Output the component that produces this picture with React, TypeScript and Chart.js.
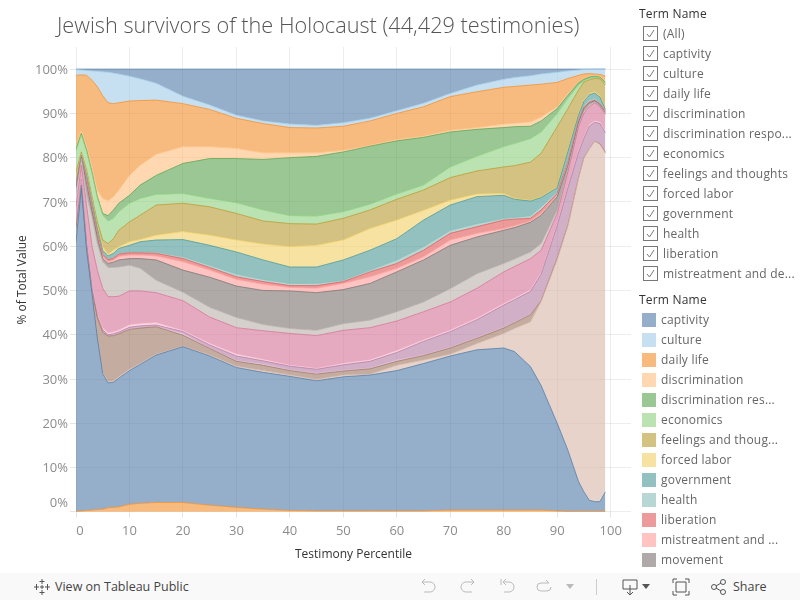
import React, { useEffect, useRef } from "react";
import { Chart, registerables } from "chart.js";

Chart.register(...registerables);

const FONT = '"Open Sans", sans-serif';

const titleText = "Jewish survivors of the Holocaust (44,429 testimonies)";
const xTicks = [0, 10, 20, 30, 40, 50, 60, 70, 80, 90, 100];
const yTicks = [0, 10, 20, 30, 40, 50, 60, 70, 80, 90, 100];

const percentile = [0, 1, 2, 3, 4, 5, 6, 7, 8, 10, 12, 15, 20, 25, 30, 35, 40, 45, 50, 55, 60, 65, 70, 75, 80, 82, 85, 87, 90, 92, 94, 95, 96, 97, 98, 99];

// Lower edge of each stacked band, in % of total.
const captivityEdge = [99.9, 99.8, 99.7, 99.6, 99.5, 99.4, 99.3, 99.1, 98.9, 98.4, 97.8, 96.8, 93.9, 91.9, 89.6, 88.3, 87.6, 87.3, 87.9, 88.9, 90.6, 92.3, 94.5, 96.4, 97.7, 98.1, 98.5, 98.9, 99.3, 99.6, 99.8, 99.9, 99.9, 100, 100, 100];
const cultureEdge = [98.6, 98.7, 98.6, 97.5, 96, 94, 92.4, 92.2, 92.4, 92.8, 92.9, 93, 92.2, 90.9, 88.9, 87.7, 86.8, 86.7, 87.1, 88.3, 90, 91.5, 93.8, 94.9, 95.9, 96.1, 96.4, 96.6, 97, 97.9, 98.6, 98.9, 99, 98.9, 98.8, 98.4];
const dailyLifeEdge = [82.5, 86.2, 82.5, 78, 72.7, 70.8, 70.3, 71.2, 72.7, 76, 78.3, 80.8, 82.5, 82.5, 82.1, 81.1, 81.1, 81.1, 81.7, 82.8, 84.1, 84.9, 86.2, 86.8, 87.6, 87.8, 88.1, 89.2, 91.5, 94.5, 97.1, 97.9, 98.4, 98.6, 98.4, 97.1];
const discriminationEdge = [82, 85.5, 81.7, 76.8, 71.2, 67.4, 66.9, 68.2, 69.7, 71.5, 73.8, 76, 78.7, 79.8, 79.8, 79.6, 80, 80.3, 81.3, 82.6, 83.8, 84.6, 85.8, 86.4, 86.8, 87, 87.1, 88.3, 91.1, 94.1, 96.9, 97.7, 98.2, 98.4, 98.2, 97];
const responseEdge = [81.5, 85.1, 81.3, 76.4, 70.8, 67, 65.7, 66.3, 67.8, 69.7, 70.8, 71.7, 71.9, 70.8, 69.8, 68.2, 66.9, 66.8, 67.8, 69.5, 71.8, 73.8, 77.9, 80.3, 82.5, 83.2, 84.3, 85.8, 90, 93.4, 96.4, 97.4, 97.9, 98.1, 98, 96.8];
const economicsEdge = [76.8, 81.3, 77.2, 71.2, 65.5, 61.4, 60.6, 61.7, 63.6, 65.5, 67, 69.3, 69.7, 68.9, 67.4, 65.7, 65.1, 65, 66.3, 68.2, 70.6, 72.7, 75.5, 77, 77.9, 78.2, 79, 81, 87, 91.1, 95.3, 97.1, 97.6, 97.9, 97.8, 96.4];
const feelingsEdge = [74.5, 80.8, 76.4, 70.4, 64.4, 59.9, 58.2, 59.1, 59.9, 61, 61.5, 62.5, 63.3, 62.5, 61.4, 60.5, 59.9, 60.2, 61.4, 64, 65.9, 68.1, 70.4, 71.8, 71.9, 70.8, 70.4, 71.2, 73.4, 81.7, 90, 93, 94.5, 94.9, 94, 91.1];
const forcedLaborEdge = [74.2, 80.6, 76, 70, 64, 59.1, 57.8, 58.4, 59.5, 60.2, 61, 61.4, 61.5, 60.2, 58.7, 56.9, 55.3, 55.3, 56.9, 59.1, 61.7, 65.9, 69.3, 71.2, 71.5, 70.6, 70.2, 71, 73.2, 81.4, 89.7, 92.7, 94.2, 94.6, 93.7, 90.9];
const governmentEdge = [74, 80.4, 75.5, 69.5, 63.3, 58.5, 57, 57.5, 58.4, 58.7, 58.7, 58.7, 57.6, 55.7, 53.7, 52.5, 51.6, 51.6, 52.3, 54.6, 56.9, 59.9, 63.6, 65.1, 66.3, 66.5, 66.9, 68.9, 72.3, 79.4, 88.9, 91.9, 93, 93.4, 92.5, 90.7];
const healthEdge = [73.8, 80.3, 75, 69, 62.9, 58.2, 56.9, 57.3, 58.2, 58.5, 58.5, 58.4, 57.2, 55.2, 53.1, 52, 51.1, 51.1, 52, 54.2, 56.1, 59.1, 62.9, 64.4, 65.9, 66.1, 66.3, 68.2, 71.9, 79, 88.5, 91.5, 92.6, 93, 92.2, 90.5];
const liberationEdge = [73.5, 80.2, 74.6, 68.5, 62.5, 57.7, 56.5, 56.8, 57.7, 58, 58, 57.8, 56.5, 54.6, 52.5, 51.4, 50.7, 50.5, 51.6, 53.1, 55, 57.6, 61.4, 62.9, 64, 64.6, 65.7, 67.4, 71.5, 78.7, 88.3, 91.3, 92.5, 92.9, 92.1, 90.4];
const mistreatmentEdge = [73.2, 80.1, 74, 68, 62, 57.2, 56.1, 56.4, 56.9, 57.2, 57.2, 56.9, 54.6, 53, 51, 50, 49.9, 49.5, 50.2, 51.6, 54.2, 56.9, 60.2, 62.1, 63.6, 64.2, 65.4, 67, 71.2, 78.3, 88.1, 91.1, 92.4, 92.9, 92, 90.2];
const movementEdge = [72, 79.8, 71.5, 66.5, 60.5, 56.5, 55.2, 55.2, 55.3, 55.7, 55, 52.3, 49.6, 46.2, 43.9, 42.3, 41.4, 41, 42.5, 43.3, 45.2, 47.4, 50.4, 53.8, 56.1, 57.1, 58.7, 60.6, 68.1, 77.2, 87.4, 90.4, 91.9, 92.6, 91.7, 90];
const lightGrayEdge = [68.9, 78.3, 69, 60, 54.5, 50.5, 48.6, 48.6, 48.7, 49.9, 49.9, 49.5, 47.7, 44, 41.6, 40.9, 40.3, 39.8, 41, 41.6, 43.1, 45.2, 47.4, 50.5, 54.2, 55.4, 57.2, 59.1, 67.4, 76.8, 87, 90, 91.5, 92.4, 91.5, 89.8];
const pinkEdge = [65.1, 75.4, 61, 51, 44.5, 41.5, 40.4, 40.6, 41, 42.2, 42.5, 42.7, 40.9, 38, 35.6, 34.4, 33.1, 32.4, 33.5, 34.3, 36.4, 38.8, 41, 43.7, 47, 48.2, 50.1, 54, 65, 73.5, 81.5, 84.7, 87.4, 88.3, 88, 85.9];
const lightPinkEdge = [64.7, 75.2, 60.5, 50.5, 44.2, 41.1, 40, 40.2, 40.6, 41.7, 42, 42.2, 40.7, 37.7, 35.2, 34.1, 32.9, 32.2, 33.2, 34, 36, 38.5, 40.7, 43.4, 46.7, 47.9, 49.8, 53.7, 64.7, 73.2, 81.2, 84.4, 87.1, 88, 87.7, 85.6];
const purpleEdge = [64.3, 75, 60.2, 50.2, 44, 40.8, 39.8, 40, 40.4, 41.4, 41.7, 42, 40.4, 37.1, 34.3, 33.5, 32.2, 31.4, 32.1, 32.6, 34.4, 35.6, 37.3, 39.5, 41.8, 43, 44.8, 48, 57.5, 65, 75.7, 80.2, 82.1, 83.8, 83.2, 81.3];
const lightPurpleEdge = [64, 73.8, 60, 50, 43.8, 40.6, 39.7, 39.8, 40.2, 41.2, 41.5, 41.8, 39.9, 36.9, 34, 33.1, 31.9, 31.1, 31.8, 32.3, 34, 35.3, 37, 39.2, 41.5, 42.7, 44.5, 47.7, 57.3, 64.8, 75.5, 80, 82, 83.7, 83.1, 81.2];
const brownEdge = [61.4, 73.4, 59.2, 49.5, 39.5, 31.5, 29.4, 29.6, 30.5, 32.2, 33.5, 35.6, 37.4, 35.4, 32.9, 31.9, 30.9, 29.9, 30.9, 31.1, 33.1, 34.3, 35.6, 38, 40.3, 41.4, 42.9, 47.5, 57, 64.6, 75.4, 79.9, 82, 83.7, 83, 81];
const lightBrownEdge = [61, 73.3, 59, 49.3, 39.3, 31.2, 29.1, 29.3, 30.2, 31.9, 33.3, 35.4, 37.3, 35.2, 32.6, 31.5, 30.6, 29.6, 30.5, 30.9, 31.9, 33.5, 35.2, 36.6, 37, 36.2, 32.8, 28.5, 20, 13.9, 6.8, 4.5, 2.6, 2.3, 2.3, 4.5];
const lowerBlueEdge = [0.1, 0.2, 0.3, 0.4, 0.5, 0.6, 0.9, 1, 1.1, 1.7, 1.9, 2.1, 2.1, 1.5, 1, 0.6, 0.3, 0.2, 0.2, 0.2, 0.2, 0.2, 0.4, 0.4, 0.4, 0.4, 0.4, 0.4, 0.2, 0.1, 0.1, 0.1, 0.1, 0.1, 0.1, 0.1];
const topEdge = percentile.map(() => 100);
const baseEdge = percentile.map(() => 0);

const edges = [topEdge, captivityEdge, cultureEdge, dailyLifeEdge, discriminationEdge, responseEdge, economicsEdge, feelingsEdge, forcedLaborEdge, governmentEdge, healthEdge, liberationEdge, mistreatmentEdge, movementEdge, lightGrayEdge, pinkEdge, lightPinkEdge, purpleEdge, lightPurpleEdge, brownEdge, lightBrownEdge, lowerBlueEdge, baseEdge];

const bandNames = ["captivity", "culture", "daily life", "discrimination", "discrimination response", "economics", "feelings and thoughts", "forced labor", "government", "health", "liberation", "mistreatment and death", "movement", "term 14", "term 15", "term 16", "term 17", "term 18", "term 19", "term 20", "term 21", "term 22"];
const bandColors = ["78,121,167", "160,203,232", "242,142,43", "255,190,125", "89,161,79", "140,209,125", "182,153,45", "241,206,99", "73,152,148", "134,188,182", "225,87,89", "255,157,154", "121,112,110", "186,176,172", "211,114,149", "250,191,210", "176,122,161", "212,166,200", "157,118,96", "215,181,166", "78,121,167", "242,142,43"];

const filterItems = ["(All)", "captivity", "culture", "daily life", "discrimination", "discrimination respo...", "economics", "feelings and thoughts", "forced labor", "government", "health", "liberation", "mistreatment and de..."];
const legendItems = ["captivity", "culture", "daily life", "discrimination", "discrimination res...", "economics", "feelings and thoug...", "forced labor", "government", "health", "liberation", "mistreatment and ...", "movement"];

const labelNudge = {
  id: "labelNudge",
  beforeDraw(chart: any) {
    const yItems = chart.scales.y.getLabelItems();
    const xItems = chart.scales.x.getLabelItems();
    yItems.forEach((item: any, i: number) => {
      item.options.translation[1] = chart.scales.y.getPixelForValue(yTicks[i]) + (i === 0 ? -8.5 : 1);
    });
    if (xItems[0]) xItems[0].options.translation[0] = chart.scales.x.getPixelForValue(0) + 4;
  },
};

const abs = (left: number, top: number, extra: any = {}) => ({ position: "absolute", left, top, ...extra });

function Icon({ x, children, w = 18 }: any) {
  return (
    <svg width={w} height={18} viewBox={`0 0 ${w} 18`} style={abs(x, 578) as any} fill="none" stroke="#888" strokeWidth="1">
      {children}
    </svg>
  );
}

export default function App() {
  const ref = useRef<HTMLCanvasElement>(null);
  useEffect(() => {
    const datasets = bandNames
      .map((name, i) => ({
        label: name,
        data: percentile.map((x, k) => ({ x, y: Math.max(0, +(edges[i][k] - edges[i + 1][k]).toFixed(2)) })),
        backgroundColor: `rgba(${bandColors[i]},0.6)`,
        borderColor: `rgba(${bandColors[i]},0.75)`,
        borderWidth: 1,
        pointRadius: 0,
        tension: 0,
        fill: i === bandNames.length - 1 ? "origin" : "-1",
      }))
      .reverse();
    const tickFont = { family: FONT, size: 13 };
    const chart = new Chart(ref.current as HTMLCanvasElement, {
      type: "line",
      data: { datasets } as any,
      plugins: [labelNudge],
      options: {
        animation: false,
        responsive: false,
        layout: { padding: { left: 0, top: 47, right: 169, bottom: 38 } },
        plugins: { legend: { display: false }, title: { display: false } },
        scales: {
          x: {
            type: "linear",
            min: 0,
            max: 103.8,
            afterBuildTicks: (s: any) => { s.ticks = xTicks.map((value) => ({ value })); },
            afterFit: (s: any) => { s.height = 49.3; },
            ticks: { font: tickFont, color: "#8c8c8c", padding: 6, maxRotation: 0, autoSkip: false },
            grid: { color: "rgba(0,0,0,0.07)", tickColor: "rgba(0,0,0,0.1)", tickLength: 5 },
            border: { display: false },
            title: { display: true, text: "Testimony Percentile", color: "#333", font: { family: FONT, size: 12 }, padding: { top: 0, bottom: 0 } },
          },
          y: {
            stacked: true,
            min: -0.2,
            max: 105,
            afterBuildTicks: (s: any) => { s.ticks = yTicks.map((value) => ({ value })); },
            afterFit: (s: any) => { s.width = 76; },
            ticks: { font: tickFont, color: "#8c8c8c", padding: 2, autoSkip: false, callback: (v: any) => v + "%" },
            grid: { color: "rgba(0,0,0,0.07)", tickColor: "rgba(0,0,0,0.1)", tickLength: 6 },
            border: { display: false },
            title: { display: true, text: "% of Total Value", color: "#333", font: { family: FONT, size: 12 }, padding: { top: 15, bottom: 0 } },
          },
        },
      },
    } as any);
    return () => chart.destroy();
  }, []);

  const tx: any = { fontFamily: FONT, fontSize: 12, whiteSpace: "nowrap", lineHeight: "16px", letterSpacing: "0.2px" };
  return (
    <div style={{ position: "fixed", left: 0, top: 0, width: 800, height: 600, overflow: "hidden", background: "#fff" }}>
      <canvas ref={ref} width={800} height={600} style={abs(0, 0, { display: "block", width: 800, height: 600 }) as any} />
      <div style={abs(57, 10, { ...tx, letterSpacing: 0, fontSize: 21.7, lineHeight: "30px", color: "#555", fontWeight: 300 }) as any}>{titleText}</div>

      <div style={abs(639, 6, { ...tx, color: "#333" }) as any}>Term Name</div>
      {filterItems.map((t, i) => (
        <React.Fragment key={t}>
          <svg width={15} height={15} style={abs(643, 26 + i * 20) as any}>
            <rect x={0.5} y={0.5} width={14} height={14} fill="#fff" stroke="#777" />
            <path d="M4 8 L6.5 11 L11 4" fill="none" stroke="#777" />
          </svg>
          <div style={abs(663, 26 + i * 20, { ...tx, color: "#666" }) as any}>{t}</div>
        </React.Fragment>
      ))}

      <div style={abs(639, 292, { ...tx, color: "#333" }) as any}>Term Name</div>
      {legendItems.map((t, i) => (
        <React.Fragment key={t}>
          <div style={abs(642, 313 + i * 20, { width: 14, height: 14, background: `rgba(${bandColors[i]},0.6)` }) as any} />
          <div style={abs(661, 312 + i * 20, { ...tx, color: "#666" }) as any}>{t}</div>
        </React.Fragment>
      ))}

      <div style={abs(0, 573, { width: 800, height: 27, background: "#f9f9f9" }) as any} />
      <svg width={18} height={18} style={abs(33, 578) as any} stroke="#555" strokeWidth="1">
        <path d="M9 1v5M6.5 3.5h5M9 12v5M6.5 14.5h5M3.5 6v6M1 9h5M14.5 6v6M12 9h5M9 7v4M7 9h4" />
      </svg>
      <div style={abs(55, 579, { ...tx, letterSpacing: 0, color: "#444", fontSize: 12.5 }) as any}>View on Tableau Public</div>
      <Icon x={419}><path d="M3 4h8a5 5 0 0 1 0 10H5M3 4l3-3M3 4l3 3" stroke="#bbb" /></Icon>
      <Icon x={459}><path d="M15 4H7a5 5 0 0 0 0 10h6M15 4l-3-3M15 4l-3 3" stroke="#bbb" /></Icon>
      <Icon x={498}><path d="M3 1v6M5 4h6a5 5 0 0 1 0 10H6M5 4l3-3M5 4l3 3" stroke="#bbb" /></Icon>
      <Icon x={535}><path d="M14 5H6a4 4 0 0 0 0 8h6a4 4 0 0 0 4-4M14 5l-3-3" stroke="#bbb" /></Icon>
      <svg width={8} height={6} style={abs(566, 584) as any}><path d="M0 0h8L4 5z" fill="#bbb" /></svg>
      <div style={abs(596, 579, { width: 1, height: 16, background: "#ccc" }) as any} />
      <Icon x={621}><path d="M2 2h14v9H2zM9 7v10M6 14l3 3 3-3" stroke="#555" /></Icon>
      <svg width={8} height={6} style={abs(642, 584) as any}><path d="M0 0h8L4 5z" fill="#555" /></svg>
      <Icon x={672}><path d="M4 4h10v10H4zM1 5V1h4M13 1h4v4M17 13v4h-4M5 17H1v-4" stroke="#555" /></Icon>
      <Icon x={710}><circle cx="4" cy="9" r="2.5" stroke="#555" /><circle cx="13" cy="4" r="2.5" stroke="#555" /><circle cx="13" cy="14" r="2.5" stroke="#555" /><path d="M6 8l5-3M6 10l5 3" stroke="#555" /></Icon>
      <div style={abs(733, 579, { ...tx, letterSpacing: 0, color: "#444", fontSize: 12.5 }) as any}>Share</div>
    </div>
  );
}
